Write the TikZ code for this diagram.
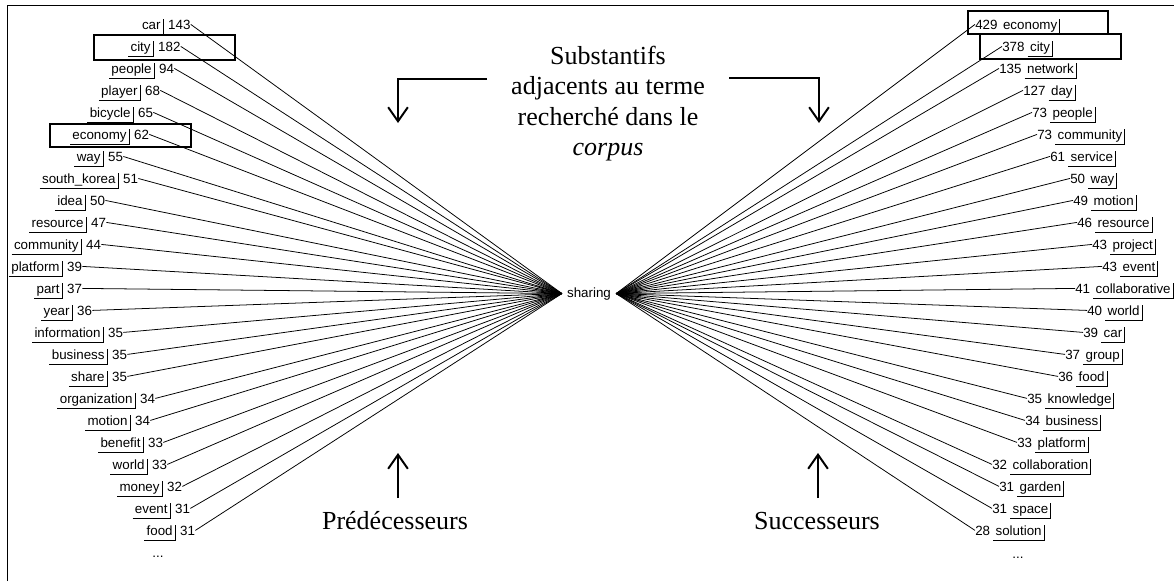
\documentclass[tikz,border=0pt]{standalone}
\usepackage{fontspec}
\setmainfont{Liberation Serif}
\setsansfont{Liberation Sans}
\usetikzlibrary{arrows.meta, positioning}
\newcommand{\lblfont}{\sffamily\fontsize{9.5}{11}\selectfont}
\newcommand{\bigfont}{\fontsize{18.5}{21.5}\selectfont}
\tikzset{
    lemma/.style={font=\lblfont, inner xsep=1.5pt, inner ysep=0pt,
        text height=7.2pt, text depth=4pt,
        append after command={(\tikzlastnode.south west)
            edge[line width=0.6pt] (\tikzlastnode.south east)
            (\tikzlastnode.south east)
            edge[line width=0.6pt] (\tikzlastnode.north east)}},
    freq/.style={font=\lblfont, inner sep=0pt},
    link/.style={line width=0.55pt},
    pointer/.style={line width=1.4pt, -{Straight Barb[length=10pt, width=14pt]}},
    hilite/.style={line width=1.7pt},
}

\begin{document}
\begin{tikzpicture}[x=0.025cm, y=-0.025cm]
    \useasboundingbox (0,0) rectangle (1174,581);
    \draw[line width=0.7pt] (7,581) -- (7,5) -- (1174,5);

    % searched term
    \node[font=\lblfont, inner xsep=3.5pt, anchor=base] (sharing) at (589,297)
        {sharing};
    \shade[left color=gray!50, right color=black] (sharing.west)
        -- ++(-25,-9) -- ++(0,18) -- cycle;
    \shade[left color=black, right color=gray!50] (sharing.east)
        -- ++(25,-9) -- ++(0,18) -- cycle;

    % predecessors
    \foreach \w/\n/\x [count=\i, evaluate=\i as \y using 29+22*(\i-1)] in
        {car/143/163, city/182/153, people/94/154, player/68/140,
        bicycle/65/133, economy/62/129, way/55/103, south\_korea/51/118,
        idea/50/85, resource/47/86, community/44/81, platform/39/62,
        part/37/62, year/36/72, information/35/103, business/35/107,
        share/35/107, organization/34/135, motion/34/130, benefit/33/143,
        world/33/147, money/32/162, event/31/170, food/31/175} {
        \node[lemma, anchor=base east] (pw\i) at (\x,\y) {\w};
        \node[freq, anchor=base west] (pn\i) at ([xshift=3.5pt]pw\i.base east)
            {\n};
        \draw[link] (pn\i.east) -- (sharing.west);
    }
    \node[freq] (pmore) at (158,557) {...};

    % successors
    \foreach \n/\w/\x [count=\i, evaluate=\i as \y using 29+22*(\i-1)] in
        {429/economy/975, 378/city/1002, 135/network/999, 127/day/1023,
        73/people/1032, 73/community/1037, 61/service/1050, 50/way/1070,
        49/motion/1073, 46/resource/1077, 43/project/1092, 43/event/1102,
        41/collaborative/1075, 40/world/1087, 39/car/1083, 37/group/1065,
        36/food/1058, 35/knowledge/1027, 34/business/1025, 33/platform/1017,
        32/collaboration/992, 31/garden/999, 31/space/992, 28/solution/975} {
        \node[freq, anchor=base west] (sn\i) at (\x,\y) {\n};
        \node[lemma, anchor=base west] (sw\i) at ([xshift=2pt]sn\i.base east)
            {\w};
        \draw[link] (sharing.east) -- (sn\i.west);
    }
    \node[freq] (smore) at (1018,558) {...};

    % highlighted terms
    \draw[hilite] (94,35) rectangle (235,60);
    \draw[hilite] (50,124) rectangle (191,147);
    \draw[hilite] (968,11) rectangle (1108,34);
    \draw[hilite] (980,34) rectangle (1121,59);

    % captions
    \node[font=\bigfont, align=center, inner sep=0pt, anchor=north] (title)
        at (608,46) {Substantifs\\adjacents au terme\\recherch\'e dans le\\
        \textit{corpus}};
    \coordinate (ltail) at (487,79);
    \coordinate (lhead) at (398,123);
    \coordinate (rtail) at (729,78);
    \coordinate (rhead) at (819,123);
    \draw[pointer] (ltail) -| (lhead);
    \draw[pointer] (rtail) -| (rhead);

    \node[font=\bigfont, anchor=base, inner sep=0pt] (pred) at (395,529)
        {Pr\'ed\'ecesseurs};
    \node[font=\bigfont, anchor=base, inner sep=0pt] (succ) at (817,529)
        {Successeurs};
    \coordinate (pfoot) at (398,498);
    \coordinate (ptip) at (398,453);
    \coordinate (sfoot) at (818,498);
    \coordinate (stip) at (818,453);
    \draw[pointer] (pfoot) -- (ptip);
    \draw[pointer] (sfoot) -- (stip);
\end{tikzpicture}
\end{document}
